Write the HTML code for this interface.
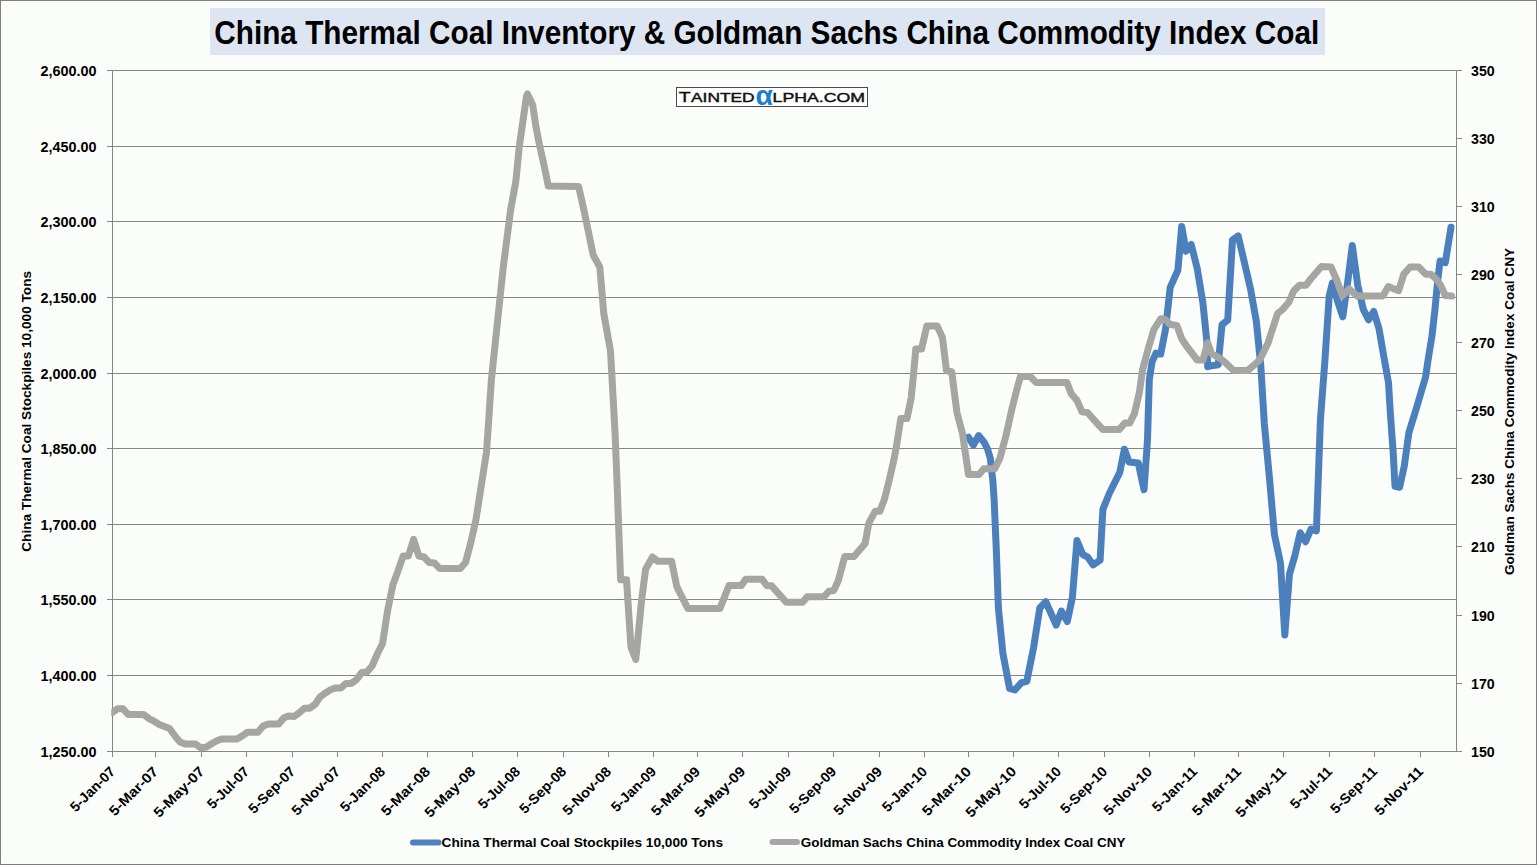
<!DOCTYPE html>
<html><head><meta charset="utf-8"><title>China Thermal Coal Inventory</title>
<style>
html,body{margin:0;padding:0;background:#fbfdfb;}
body{width:1537px;height:865px;overflow:hidden;}
svg{display:block;font-family:"Liberation Sans", sans-serif;}
</style></head><body>
<svg width="1537" height="865" viewBox="0 0 1537 865">
<rect x="0" y="0" width="1537" height="865" fill="#fbfdfb"/>
<rect x="1.5" y="1.5" width="1534" height="862" fill="none" stroke="#ffffff" stroke-width="1"/>
<rect x="0.5" y="0.5" width="1536" height="864" fill="none" stroke="#7f807e" stroke-width="1"/>

<rect x="210" y="8" width="1115" height="47" fill="#dce5f1"/>
<text x="214.3" y="44" font-size="32.5" font-weight="bold" fill="#000" textLength="1105" lengthAdjust="spacingAndGlyphs">China Thermal Coal Inventory &amp; Goldman Sachs China Commodity Index Coal</text>
<line x1="107" y1="70.5" x2="1457" y2="70.5" stroke="#868686" stroke-width="1"/>
<line x1="107" y1="146.5" x2="1457" y2="146.5" stroke="#868686" stroke-width="1"/>
<line x1="107" y1="221.5" x2="1457" y2="221.5" stroke="#868686" stroke-width="1"/>
<line x1="107" y1="297.5" x2="1457" y2="297.5" stroke="#868686" stroke-width="1"/>
<line x1="107" y1="373.5" x2="1457" y2="373.5" stroke="#868686" stroke-width="1"/>
<line x1="107" y1="448.5" x2="1457" y2="448.5" stroke="#868686" stroke-width="1"/>
<line x1="107" y1="524.5" x2="1457" y2="524.5" stroke="#868686" stroke-width="1"/>
<line x1="107" y1="599.5" x2="1457" y2="599.5" stroke="#868686" stroke-width="1"/>
<line x1="107" y1="675.5" x2="1457" y2="675.5" stroke="#868686" stroke-width="1"/>
<line x1="107" y1="751.5" x2="1457" y2="751.5" stroke="#868686" stroke-width="1"/>
<line x1="112.5" y1="70" x2="112.5" y2="757" stroke="#868686" stroke-width="1"/>
<line x1="1456.5" y1="70" x2="1456.5" y2="752" stroke="#868686" stroke-width="1"/>
<line x1="1456" y1="751.5" x2="1462" y2="751.5" stroke="#868686" stroke-width="1"/>
<line x1="1456" y1="683.5" x2="1462" y2="683.5" stroke="#868686" stroke-width="1"/>
<line x1="1456" y1="615.5" x2="1462" y2="615.5" stroke="#868686" stroke-width="1"/>
<line x1="1456" y1="546.5" x2="1462" y2="546.5" stroke="#868686" stroke-width="1"/>
<line x1="1456" y1="478.5" x2="1462" y2="478.5" stroke="#868686" stroke-width="1"/>
<line x1="1456" y1="410.5" x2="1462" y2="410.5" stroke="#868686" stroke-width="1"/>
<line x1="1456" y1="342.5" x2="1462" y2="342.5" stroke="#868686" stroke-width="1"/>
<line x1="1456" y1="274.5" x2="1462" y2="274.5" stroke="#868686" stroke-width="1"/>
<line x1="1456" y1="206.5" x2="1462" y2="206.5" stroke="#868686" stroke-width="1"/>
<line x1="1456" y1="138.5" x2="1462" y2="138.5" stroke="#868686" stroke-width="1"/>
<line x1="1456" y1="70.5" x2="1462" y2="70.5" stroke="#868686" stroke-width="1"/>
<line x1="112.5" y1="751" x2="112.5" y2="757" stroke="#868686" stroke-width="1"/>
<text x="116.1" y="772.4" font-size="14" font-weight="bold" text-anchor="end" textLength="57.0" lengthAdjust="spacingAndGlyphs" transform="rotate(-45 116.1 772.4)">5-Jan-07</text>
<line x1="155.5" y1="751" x2="155.5" y2="757" stroke="#868686" stroke-width="1"/>
<text x="159.1" y="772.4" font-size="14" font-weight="bold" text-anchor="end" textLength="62.8" lengthAdjust="spacingAndGlyphs" transform="rotate(-45 159.1 772.4)">5-Mar-07</text>
<line x1="201.5" y1="751" x2="201.5" y2="757" stroke="#868686" stroke-width="1"/>
<text x="205.1" y="772.4" font-size="14" font-weight="bold" text-anchor="end" textLength="64.7" lengthAdjust="spacingAndGlyphs" transform="rotate(-45 205.1 772.4)">5-May-07</text>
<line x1="246.5" y1="751" x2="246.5" y2="757" stroke="#868686" stroke-width="1"/>
<text x="250.1" y="772.4" font-size="14" font-weight="bold" text-anchor="end" textLength="52.9" lengthAdjust="spacingAndGlyphs" transform="rotate(-45 250.1 772.4)">5-Jul-07</text>
<line x1="292.5" y1="751" x2="292.5" y2="757" stroke="#868686" stroke-width="1"/>
<text x="296.1" y="772.4" font-size="14" font-weight="bold" text-anchor="end" textLength="59.4" lengthAdjust="spacingAndGlyphs" transform="rotate(-45 296.1 772.4)">5-Sep-07</text>
<line x1="337.5" y1="751" x2="337.5" y2="757" stroke="#868686" stroke-width="1"/>
<text x="341.1" y="772.4" font-size="14" font-weight="bold" text-anchor="end" textLength="61.9" lengthAdjust="spacingAndGlyphs" transform="rotate(-45 341.1 772.4)">5-Nov-07</text>
<line x1="382.5" y1="751" x2="382.5" y2="757" stroke="#868686" stroke-width="1"/>
<text x="386.1" y="772.4" font-size="14" font-weight="bold" text-anchor="end" textLength="57.0" lengthAdjust="spacingAndGlyphs" transform="rotate(-45 386.1 772.4)">5-Jan-08</text>
<line x1="427.5" y1="751" x2="427.5" y2="757" stroke="#868686" stroke-width="1"/>
<text x="431.1" y="772.4" font-size="14" font-weight="bold" text-anchor="end" textLength="62.8" lengthAdjust="spacingAndGlyphs" transform="rotate(-45 431.1 772.4)">5-Mar-08</text>
<line x1="472.5" y1="751" x2="472.5" y2="757" stroke="#868686" stroke-width="1"/>
<text x="476.1" y="772.4" font-size="14" font-weight="bold" text-anchor="end" textLength="64.7" lengthAdjust="spacingAndGlyphs" transform="rotate(-45 476.1 772.4)">5-May-08</text>
<line x1="517.5" y1="751" x2="517.5" y2="757" stroke="#868686" stroke-width="1"/>
<text x="521.1" y="772.4" font-size="14" font-weight="bold" text-anchor="end" textLength="52.9" lengthAdjust="spacingAndGlyphs" transform="rotate(-45 521.1 772.4)">5-Jul-08</text>
<line x1="563.5" y1="751" x2="563.5" y2="757" stroke="#868686" stroke-width="1"/>
<text x="567.1" y="772.4" font-size="14" font-weight="bold" text-anchor="end" textLength="59.4" lengthAdjust="spacingAndGlyphs" transform="rotate(-45 567.1 772.4)">5-Sep-08</text>
<line x1="608.5" y1="751" x2="608.5" y2="757" stroke="#868686" stroke-width="1"/>
<text x="612.1" y="772.4" font-size="14" font-weight="bold" text-anchor="end" textLength="61.9" lengthAdjust="spacingAndGlyphs" transform="rotate(-45 612.1 772.4)">5-Nov-08</text>
<line x1="653.5" y1="751" x2="653.5" y2="757" stroke="#868686" stroke-width="1"/>
<text x="657.1" y="772.4" font-size="14" font-weight="bold" text-anchor="end" textLength="57.0" lengthAdjust="spacingAndGlyphs" transform="rotate(-45 657.1 772.4)">5-Jan-09</text>
<line x1="697.5" y1="751" x2="697.5" y2="757" stroke="#868686" stroke-width="1"/>
<text x="701.1" y="772.4" font-size="14" font-weight="bold" text-anchor="end" textLength="62.8" lengthAdjust="spacingAndGlyphs" transform="rotate(-45 701.1 772.4)">5-Mar-09</text>
<line x1="742.5" y1="751" x2="742.5" y2="757" stroke="#868686" stroke-width="1"/>
<text x="746.1" y="772.4" font-size="14" font-weight="bold" text-anchor="end" textLength="64.7" lengthAdjust="spacingAndGlyphs" transform="rotate(-45 746.1 772.4)">5-May-09</text>
<line x1="788.5" y1="751" x2="788.5" y2="757" stroke="#868686" stroke-width="1"/>
<text x="792.1" y="772.4" font-size="14" font-weight="bold" text-anchor="end" textLength="52.9" lengthAdjust="spacingAndGlyphs" transform="rotate(-45 792.1 772.4)">5-Jul-09</text>
<line x1="833.5" y1="751" x2="833.5" y2="757" stroke="#868686" stroke-width="1"/>
<text x="837.1" y="772.4" font-size="14" font-weight="bold" text-anchor="end" textLength="59.4" lengthAdjust="spacingAndGlyphs" transform="rotate(-45 837.1 772.4)">5-Sep-09</text>
<line x1="879.5" y1="751" x2="879.5" y2="757" stroke="#868686" stroke-width="1"/>
<text x="883.1" y="772.4" font-size="14" font-weight="bold" text-anchor="end" textLength="61.9" lengthAdjust="spacingAndGlyphs" transform="rotate(-45 883.1 772.4)">5-Nov-09</text>
<line x1="924.5" y1="751" x2="924.5" y2="757" stroke="#868686" stroke-width="1"/>
<text x="928.1" y="772.4" font-size="14" font-weight="bold" text-anchor="end" textLength="57.0" lengthAdjust="spacingAndGlyphs" transform="rotate(-45 928.1 772.4)">5-Jan-10</text>
<line x1="968.5" y1="751" x2="968.5" y2="757" stroke="#868686" stroke-width="1"/>
<text x="972.1" y="772.4" font-size="14" font-weight="bold" text-anchor="end" textLength="62.8" lengthAdjust="spacingAndGlyphs" transform="rotate(-45 972.1 772.4)">5-Mar-10</text>
<line x1="1013.5" y1="751" x2="1013.5" y2="757" stroke="#868686" stroke-width="1"/>
<text x="1017.1" y="772.4" font-size="14" font-weight="bold" text-anchor="end" textLength="64.7" lengthAdjust="spacingAndGlyphs" transform="rotate(-45 1017.1 772.4)">5-May-10</text>
<line x1="1058.5" y1="751" x2="1058.5" y2="757" stroke="#868686" stroke-width="1"/>
<text x="1062.1" y="772.4" font-size="14" font-weight="bold" text-anchor="end" textLength="52.9" lengthAdjust="spacingAndGlyphs" transform="rotate(-45 1062.1 772.4)">5-Jul-10</text>
<line x1="1104.5" y1="751" x2="1104.5" y2="757" stroke="#868686" stroke-width="1"/>
<text x="1108.1" y="772.4" font-size="14" font-weight="bold" text-anchor="end" textLength="59.4" lengthAdjust="spacingAndGlyphs" transform="rotate(-45 1108.1 772.4)">5-Sep-10</text>
<line x1="1149.5" y1="751" x2="1149.5" y2="757" stroke="#868686" stroke-width="1"/>
<text x="1153.1" y="772.4" font-size="14" font-weight="bold" text-anchor="end" textLength="61.9" lengthAdjust="spacingAndGlyphs" transform="rotate(-45 1153.1 772.4)">5-Nov-10</text>
<line x1="1194.5" y1="751" x2="1194.5" y2="757" stroke="#868686" stroke-width="1"/>
<text x="1198.1" y="772.4" font-size="14" font-weight="bold" text-anchor="end" textLength="57.0" lengthAdjust="spacingAndGlyphs" transform="rotate(-45 1198.1 772.4)">5-Jan-11</text>
<line x1="1238.5" y1="751" x2="1238.5" y2="757" stroke="#868686" stroke-width="1"/>
<text x="1242.1" y="772.4" font-size="14" font-weight="bold" text-anchor="end" textLength="62.8" lengthAdjust="spacingAndGlyphs" transform="rotate(-45 1242.1 772.4)">5-Mar-11</text>
<line x1="1283.5" y1="751" x2="1283.5" y2="757" stroke="#868686" stroke-width="1"/>
<text x="1287.1" y="772.4" font-size="14" font-weight="bold" text-anchor="end" textLength="64.7" lengthAdjust="spacingAndGlyphs" transform="rotate(-45 1287.1 772.4)">5-May-11</text>
<line x1="1329.5" y1="751" x2="1329.5" y2="757" stroke="#868686" stroke-width="1"/>
<text x="1333.1" y="772.4" font-size="14" font-weight="bold" text-anchor="end" textLength="52.9" lengthAdjust="spacingAndGlyphs" transform="rotate(-45 1333.1 772.4)">5-Jul-11</text>
<line x1="1374.5" y1="751" x2="1374.5" y2="757" stroke="#868686" stroke-width="1"/>
<text x="1378.1" y="772.4" font-size="14" font-weight="bold" text-anchor="end" textLength="59.4" lengthAdjust="spacingAndGlyphs" transform="rotate(-45 1378.1 772.4)">5-Sep-11</text>
<line x1="1420.5" y1="751" x2="1420.5" y2="757" stroke="#868686" stroke-width="1"/>
<text x="1424.1" y="772.4" font-size="14" font-weight="bold" text-anchor="end" textLength="61.9" lengthAdjust="spacingAndGlyphs" transform="rotate(-45 1424.1 772.4)">5-Nov-11</text>
<text x="96.5" y="75.5" font-size="14.4" font-weight="bold" text-anchor="end">2,600.00</text>
<text x="96.5" y="151.5" font-size="14.4" font-weight="bold" text-anchor="end">2,450.00</text>
<text x="96.5" y="226.5" font-size="14.4" font-weight="bold" text-anchor="end">2,300.00</text>
<text x="96.5" y="302.5" font-size="14.4" font-weight="bold" text-anchor="end">2,150.00</text>
<text x="96.5" y="378.5" font-size="14.4" font-weight="bold" text-anchor="end">2,000.00</text>
<text x="96.5" y="453.5" font-size="14.4" font-weight="bold" text-anchor="end">1,850.00</text>
<text x="96.5" y="529.5" font-size="14.4" font-weight="bold" text-anchor="end">1,700.00</text>
<text x="96.5" y="604.5" font-size="14.4" font-weight="bold" text-anchor="end">1,550.00</text>
<text x="96.5" y="680.5" font-size="14.4" font-weight="bold" text-anchor="end">1,400.00</text>
<text x="96.5" y="756.5" font-size="14.4" font-weight="bold" text-anchor="end">1,250.00</text>
<text x="1471" y="756.5" font-size="14.2" font-weight="bold">150</text>
<text x="1471" y="688.5" font-size="14.2" font-weight="bold">170</text>
<text x="1471" y="620.5" font-size="14.2" font-weight="bold">190</text>
<text x="1471" y="551.5" font-size="14.2" font-weight="bold">210</text>
<text x="1471" y="483.5" font-size="14.2" font-weight="bold">230</text>
<text x="1471" y="415.5" font-size="14.2" font-weight="bold">250</text>
<text x="1471" y="347.5" font-size="14.2" font-weight="bold">270</text>
<text x="1471" y="279.5" font-size="14.2" font-weight="bold">290</text>
<text x="1471" y="211.5" font-size="14.2" font-weight="bold">310</text>
<text x="1471" y="143.5" font-size="14.2" font-weight="bold">330</text>
<text x="1471" y="75.5" font-size="14.2" font-weight="bold">350</text>
<text x="0" y="0" font-size="13.7" font-weight="bold" textLength="280.9" lengthAdjust="spacingAndGlyphs" transform="translate(31,551.8) rotate(-90)">China Thermal Coal Stockpiles 10,000 Tons</text>
<text x="0" y="0" font-size="13.7" font-weight="bold" textLength="327" lengthAdjust="spacingAndGlyphs" transform="translate(1514,575) rotate(-90)">Goldman Sachs China Commodity Index Coal CNY</text>
<defs><clipPath id="pc"><rect x="111.2" y="60" width="1360" height="700"/></clipPath></defs>
<polyline clip-path="url(#pc)" points="968.5,437.3 973.4,445.0 978.6,435.6 984.1,442.2 987.6,449.1 990.4,458.8 991.4,468.5 992.8,480.0 994.1,499.2 996.3,549.7 998.4,608.2 1002.9,653.4 1009.6,688.5 1014.9,690.0 1021.5,682.6 1026.8,681.3 1033.5,648.1 1039.8,608.0 1045.8,601.8 1056.2,625.0 1061.3,611.1 1067.3,621.5 1072.4,597.2 1077.0,540.6 1082.8,554.5 1087.4,556.8 1093.2,564.9 1100.1,560.2 1102.9,509.4 1109.4,493.2 1119.8,472.4 1124.4,449.2 1129.0,462.0 1138.3,463.1 1144.0,489.7 1147.5,440.0 1149.3,379.8 1152.1,361.7 1156.0,353.1 1160.7,354.0 1165.5,329.3 1170.2,287.4 1177.9,270.2 1181.7,226.4 1186.0,251.2 1191.2,244.5 1197.2,268.4 1202.9,302.8 1206.8,341.0 1207.7,366.7 1211.5,365.8 1218.2,364.8 1222.0,324.7 1227.7,320.0 1232.5,239.8 1238.2,236.0 1244.0,260.8 1250.6,289.4 1256.4,321.9 1260.8,365.9 1264.3,423.3 1269.7,480.7 1274.4,534.5 1280.5,563.2 1284.8,635.0 1289.5,574.0 1294.8,556.0 1300.2,532.7 1305.6,541.7 1311.0,529.1 1316.4,530.9 1320.4,420.0 1324.8,361.9 1329.2,295.9 1332.5,282.7 1338.0,302.5 1342.8,316.8 1347.9,280.5 1352.3,245.4 1357.7,285.0 1363.2,309.1 1368.5,319.8 1373.7,311.5 1378.9,328.2 1384.8,362.2 1388.5,382.6 1390.4,414.1 1393.1,451.1 1395.0,486.3 1399.6,487.2 1404.3,465.9 1408.9,432.6 1416.3,408.5 1425.6,377.0 1428.3,358.5 1431.9,336.5 1434.9,310.0 1437.7,280.5 1440.1,260.9 1445.3,262.6 1451.0,227.3" fill="none" stroke="#4c80bc" stroke-width="7" stroke-linejoin="round" stroke-linecap="round"/>
<polyline clip-path="url(#pc)" points="112.5,712.4 117.7,708.7 122.9,708.7 128.1,714.5 143.7,714.5 148.9,718.6 154.1,721.2 159.3,724.4 164.4,726.4 169.6,728.5 174.8,735.8 180.0,742.0 185.2,744.1 195.6,744.1 200.8,747.8 206.0,747.3 211.2,744.0 216.3,741.0 221.5,739.0 237.1,739.0 242.3,735.8 247.5,732.2 257.9,732.2 263.1,726.0 268.3,724.1 278.7,724.1 283.9,717.8 289.0,715.9 294.2,716.5 299.4,712.7 304.6,708.2 309.8,708.2 315.0,704.4 320.2,696.8 325.4,693.0 330.6,689.8 335.8,687.9 341.0,687.9 346.1,683.4 351.3,683.4 356.5,679.6 361.7,672.6 366.9,672.0 372.1,666.0 377.3,654.0 382.5,643.5 387.7,610.0 392.9,584.7 398.0,570.9 403.2,556.0 408.4,556.0 413.6,539.4 418.8,556.0 424.0,557.0 429.2,562.5 434.4,563.0 439.6,568.4 460.3,568.4 465.5,562.5 470.7,543.0 475.9,520.0 486.6,451.5 491.4,379.7 500.0,298.0 503.4,266.0 510.6,210.0 515.9,181.0 519.3,146.4 526.5,96.0 527.5,94.0 532.7,105.0 536.0,127.0 539.5,145.0 544.0,165.0 548.3,186.0 578.6,186.5 583.9,209.9 593.2,255.0 599.8,267.0 603.8,313.6 610.5,350.9 615.0,432.0 617.1,484.0 620.6,579.7 626.5,579.7 631.0,647.4 635.8,659.5 641.4,602.0 645.6,569.2 652.5,557.0 657.7,561.3 671.6,561.3 676.8,586.6 682.0,597.0 687.8,608.4 720.0,608.4 729.0,585.5 741.4,585.5 745.6,579.3 762.2,579.3 766.9,585.8 771.6,585.8 786.2,602.2 802.8,602.2 807.0,596.8 823.7,596.8 828.9,591.3 833.7,590.6 838.3,580.5 844.8,556.5 854.0,556.5 865.1,543.5 868.8,523.2 875.3,511.2 879.9,511.2 884.5,499.1 889.1,480.7 893.8,460.3 896.6,445.5 900.8,418.5 907.0,418.5 911.2,397.7 913.3,376.9 915.8,348.9 921.6,348.9 926.8,326.0 937.2,326.0 942.4,337.4 946.5,370.7 951.7,371.7 956.9,412.3 962.6,433.9 964.7,449.1 966.8,463.0 968.5,474.5 979.0,474.5 983.8,468.8 994.8,468.8 1000.1,457.7 1006.1,435.2 1012.1,408.1 1016.7,390.0 1020.4,376.5 1030.2,376.5 1036.2,382.6 1067.0,382.6 1071.3,393.9 1077.0,400.4 1081.9,411.7 1087.5,412.5 1094.0,419.8 1102.9,429.6 1119.1,429.6 1124.8,423.1 1129.6,423.1 1134.5,413.4 1139.4,392.3 1142.6,369.5 1148.3,348.3 1154.0,329.3 1160.7,318.8 1165.5,319.8 1170.2,324.5 1176.9,325.5 1181.7,338.8 1186.5,346.0 1197.2,360.0 1202.9,360.0 1207.7,342.9 1211.5,353.4 1221.1,359.1 1225.8,362.9 1233.5,370.5 1247.8,370.5 1255.4,363.9 1259.7,359.7 1267.8,343.6 1277.5,313.6 1282.4,309.6 1288.8,302.3 1293.7,291.0 1299.4,285.3 1305.8,285.3 1311.5,278.0 1321.5,266.5 1331.0,267.0 1336.9,280.5 1342.4,295.9 1349.0,289.0 1357.0,295.9 1383.0,295.9 1388.2,286.6 1398.6,290.7 1403.8,274.1 1410.1,267.0 1418.7,267.0 1425.6,274.2 1430.8,274.2 1436.6,279.4 1441.2,286.3 1445.3,295.5 1451.6,296.1" fill="none" stroke="#a5a6a4" stroke-width="7" stroke-linejoin="round" stroke-linecap="round"/>
<rect x="676.5" y="87.5" width="191" height="19" fill="#ffffff" stroke="#4a4a4a" stroke-width="1"/>
<g font-weight="normal" fill="#111" stroke="#111" stroke-width="0.4">
<text x="678.8" y="101.8" font-size="15.3" textLength="12" lengthAdjust="spacingAndGlyphs">T</text>
<text x="691" y="101.8" font-size="12" textLength="63.6" lengthAdjust="spacingAndGlyphs">AINTED</text>
<text x="772.6" y="101.8" font-size="12" textLength="92.5" lengthAdjust="spacingAndGlyphs">LPHA.COM</text>
</g>
<text x="755.6" y="104.6" font-size="28" font-weight="bold" fill="#1a7fd0" textLength="17.4" lengthAdjust="spacingAndGlyphs">α</text>
<line x1="413" y1="842.4" x2="438.5" y2="842.4" stroke="#4f81bd" stroke-width="6" stroke-linecap="round"/>
<text x="441.6" y="847" font-size="13.7" font-weight="bold" textLength="281.4" lengthAdjust="spacingAndGlyphs">China Thermal Coal Stockpiles 10,000 Tons</text>
<line x1="772.5" y1="842.1" x2="797" y2="842.1" stroke="#a6a6a6" stroke-width="6" stroke-linecap="round"/>
<text x="800.8" y="847" font-size="13.5" font-weight="bold" textLength="324.6" lengthAdjust="spacingAndGlyphs">Goldman Sachs China Commodity Index Coal CNY</text>
</svg></body></html>
